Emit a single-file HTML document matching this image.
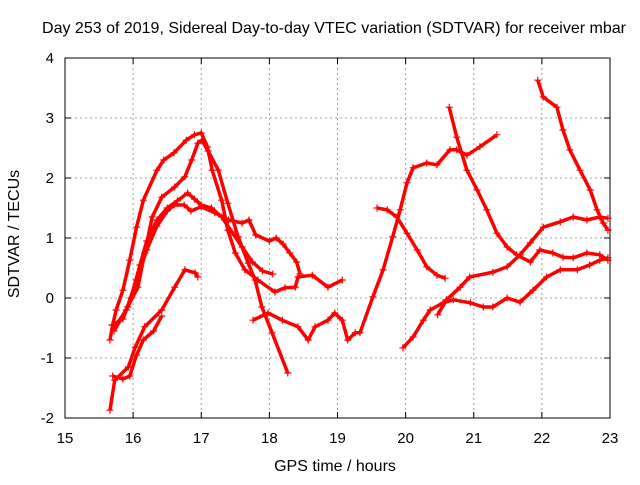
<!DOCTYPE html>
<html><head><meta charset="utf-8"><style>
body{margin:0;background:#fff}
svg text{font-family:"Liberation Sans",sans-serif;font-size:15px;fill:#000}
svg text.big{font-size:16px}
</style></head><body>
<svg id="chart" width="640" height="480">
<rect width="640" height="480" fill="#fff"/>
<g id="grid"></g><g id="series"></g><g id="axes"></g>
</svg>
<script>
const xTicks=[15,16,17,18,19,20,21,22,23];
const yTicks=[-2,-1,0,1,2,3,4];
const c1=[[15.66,-0.7],[15.7,-0.45],[15.75,-0.2],[15.85,0.13],[15.95,0.63],[16.05,1.18],[16.15,1.63],[16.35,2.13],[16.45,2.3],[16.6,2.42],[16.78,2.63],[16.9,2.72],[17.0,2.75],[17.09,2.52],[17.16,2.13],[17.3,1.63],[17.39,1.13],[17.5,0.75],[17.64,0.47],[17.83,0.3],[18.08,0.1],[18.23,0.17],[18.38,0.18],[18.42,0.35],[18.63,0.38],[18.86,0.18],[19.07,0.3]];
const c2=[[15.72,-0.55],[15.92,-0.15],[16.07,0.18],[16.17,0.75],[16.28,1.35],[16.42,1.68],[16.61,1.85],[16.76,2.02],[16.86,2.3],[16.95,2.58],[17.01,2.63],[17.1,2.45],[17.25,2.13],[17.39,1.58],[17.54,1.02],[17.69,0.58],[17.79,0.3],[17.89,-0.15],[18.04,-0.58],[18.27,-1.25]];
const c3=[[15.69,-0.45],[15.85,-0.35],[15.97,0.0],[16.1,0.55],[16.2,0.95],[16.35,1.3],[16.5,1.5],[16.65,1.62],[16.8,1.75],[16.9,1.65],[17.0,1.55],[17.15,1.5],[17.3,1.35],[17.45,1.1],[17.6,0.85],[17.75,0.6],[17.9,0.45],[18.05,0.4]];
const c4=[[15.72,-0.5],[15.9,-0.2],[16.05,0.3],[16.2,0.8],[16.35,1.2],[16.5,1.45],[16.6,1.55],[16.75,1.55],[16.85,1.45],[17.0,1.52],[17.2,1.42],[17.4,1.3],[17.6,1.25],[17.7,1.3],[17.8,1.05],[18.0,0.95],[18.1,1.0],[18.2,0.9],[18.3,0.75],[18.4,0.6],[18.45,0.4]];
const c5=[[15.66,-1.87],[15.73,-1.37],[15.93,-1.15],[16.03,-0.82],[16.17,-0.48],[16.42,-0.2],[16.61,0.18],[16.76,0.47],[16.91,0.42],[16.95,0.35]];
const c6=[[15.7,-1.3],[15.85,-1.35],[15.95,-1.3],[16.05,-0.95],[16.15,-0.7],[16.3,-0.55],[16.42,-0.3]];
const c7=[[17.76,-0.37],[17.98,-0.25],[18.19,-0.37],[18.42,-0.48],[18.57,-0.7],[18.67,-0.48],[18.86,-0.37],[18.96,-0.25],[19.07,-0.37],[19.15,-0.7],[19.26,-0.58],[19.33,-0.58],[19.52,0.02],[19.67,0.47],[19.81,1.02],[19.92,1.47],[20.02,1.92],[20.11,2.17],[20.31,2.25],[20.46,2.22],[20.65,2.47],[20.75,2.47],[20.9,2.38],[21.09,2.52],[21.34,2.72]];
const c8=[[20.64,3.18],[20.75,2.68],[20.9,2.13],[21.05,1.8],[21.19,1.47],[21.34,1.08],[21.49,0.85],[21.63,0.72],[21.83,0.6],[21.97,0.8],[22.16,0.75],[22.31,0.68],[22.46,0.67],[22.66,0.75],[22.85,0.72],[22.97,0.63]];
const c9=[[19.58,1.5],[19.73,1.47],[19.87,1.35],[20.02,1.08],[20.17,0.8],[20.31,0.52],[20.46,0.38],[20.58,0.33]];
const c10=[[19.96,-0.83],[20.11,-0.65],[20.26,-0.37],[20.36,-0.2],[20.55,-0.08],[20.7,-0.03],[20.95,-0.08],[21.14,-0.15],[21.28,-0.15],[21.49,0.0],[21.68,-0.07],[21.87,0.13],[22.07,0.35],[22.27,0.47],[22.52,0.47],[22.7,0.55],[22.85,0.63],[22.97,0.67]];
const c11=[[20.47,-0.28],[20.6,-0.03],[20.8,0.18],[20.94,0.35],[21.28,0.43],[21.49,0.52],[21.68,0.72],[21.83,0.92],[22.02,1.18],[22.27,1.27],[22.46,1.35],[22.66,1.3],[22.85,1.35],[22.97,1.33]];
const c12=[[21.94,3.63],[22.02,3.35],[22.22,3.18],[22.31,2.8],[22.41,2.47],[22.56,2.13],[22.71,1.8],[22.81,1.47],[22.9,1.25],[22.97,1.13]];
const allSeries=[c1,c2,c3,c4,c5,c6,c7,c8,c9,c10,c11,c12];

const L=65,R=610,T=58,B=418;
const X=h=>L+(h-15)*(R-L)/8;
const Y=v=>T+(4-v)*(B-T)/6;
const NS="http://www.w3.org/2000/svg";
function mk(t,a,p){const e=document.createElementNS(NS,t);for(const k in a)e.setAttribute(k,a[k]);p.appendChild(e);return e;}
const grid=document.getElementById('grid'),axes=document.getElementById('axes'),ser=document.getElementById('series');
xTicks.forEach(t=>{
 if(t>15&&t<23){const g=mk('line',{x1:X(t),x2:X(t),y1:T,y2:B,stroke:'#a0a0a0','stroke-dasharray':'2,3'},grid);
 
 }
 mk('line',{x1:X(t),x2:X(t),y1:B,y2:B-6,stroke:'#000'},axes);
 mk('line',{x1:X(t),x2:X(t),y1:T,y2:T+6,stroke:'#000'},axes);
 const tx=mk('text',{x:X(t),y:443,'text-anchor':'middle'},axes);tx.textContent=t;
 
 
});
yTicks.forEach(t=>{
 if(t>-2&&t<4){const g=mk('line',{x1:L,x2:R,y1:Y(t),y2:Y(t),stroke:'#a0a0a0','stroke-dasharray':'2,3'},grid);
 
 }
 mk('line',{x1:L,x2:L+6,y1:Y(t),y2:Y(t),stroke:'#000'},axes);
 mk('line',{x1:R,x2:R-6,y1:Y(t),y2:Y(t),stroke:'#000'},axes);
 const tx=mk('text',{x:54,y:Y(t)+5,'text-anchor':'end'},axes);tx.textContent=t;
 
 
});
const box=mk('rect',{x:L,y:T,width:R-L,height:B-T,fill:'none',stroke:'#000'},axes);


allSeries.forEach((s,i)=>{
 const g=mk('g',{},ser);
 
 
 mk('polyline',{points:s.map(p=>X(p[0])+','+Y(p[1])).join(' '),fill:'none',stroke:'#f00','stroke-width':3.5,'stroke-linejoin':'round'},g);
 s.forEach(p=>{const x=X(p[0]),y=Y(p[1]);
  mk('path',{d:`M${x-3.5},${y}H${x+3.5}M${x},${y-3.5}V${y+3.5}`,stroke:'#f00','stroke-width':1.2},g);});
});
const ttl=mk('text',{x:334,y:33,'text-anchor':'middle','class':'big'},axes);ttl.textContent='Day 253 of 2019, Sidereal Day-to-day VTEC variation (SDTVAR) for receiver mbar';


const xl=mk('text',{x:335,y:471,'text-anchor':'middle','class':'big'},axes);xl.textContent='GPS time / hours';


const yl=mk('text',{x:0,y:0,'text-anchor':'middle','class':'big',transform:'translate(19,234) rotate(-90)'},axes);yl.textContent='SDTVAR / TECUs';


</script>
</body></html>
